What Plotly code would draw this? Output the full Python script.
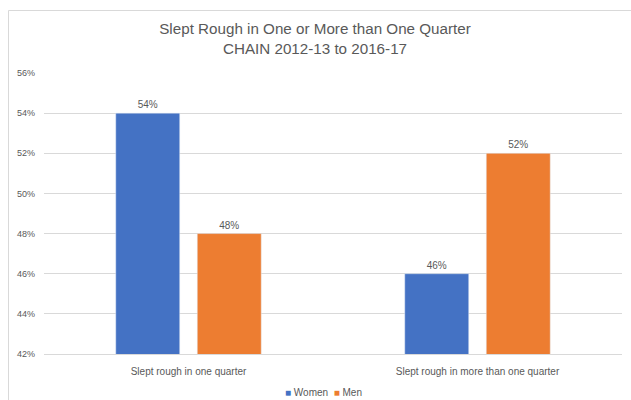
import plotly.graph_objects as go

categories = ["Slept rough in one quarter", "Slept rough in more than one quarter"]
women = [0.54, 0.46]
men = [0.48, 0.52]
tick_vals = [0.42, 0.44, 0.46, 0.48, 0.50, 0.52, 0.54, 0.56]
series_names = ["Women", "Men"]
series_colors = ["#4472C4", "#ED7D31"]

grey = "#595959"
fontfam = "Liberation Sans, Arial, sans-serif"

fig = go.Figure()
for name, vals, col in zip(series_names, [women, men], series_colors):
    fig.add_trace(go.Bar(name=name, x=categories, y=vals, marker_color=col,
                         text=[f"{v:.0%}" for v in vals], textposition="outside",
                         textfont=dict(size=10, color=grey), cliponaxis=False,
                         showlegend=False))

legend_text = "  ".join(
    f"<span style='color:{c}'>■</span> <span style='color:{grey}'>{n}</span>"
    for n, c in zip(series_names, series_colors))

W, H = 631, 400
L, T, R, B = 44, 73, 9, 46
pw, ph = W - L - R, H - T - B

fig.update_layout(
    width=W, height=H,
    margin=dict(l=L, r=R, t=T, b=B, autoexpand=False),
    paper_bgcolor="white", plot_bgcolor="white",
    font=dict(family=fontfam, color=grey),
    title=dict(text="Slept Rough in One or More than One Quarter<br>CHAIN 2012-13 to 2016-17",
               x=315 / W, xref="container", xanchor="center", y=1 - 34 / H, yref="container",
               yanchor="middle", font=dict(size=15.2, color=grey)),
    barmode="group", bargap=0.436, bargroupgap=0.215,
    xaxis=dict(showgrid=False, showline=True, linecolor="#D9D9D9", linewidth=1,
               ticks="", tickfont=dict(size=10, color=grey), ticklabelstandoff=8),
    yaxis=dict(range=[0.42, 0.56], tickvals=tick_vals, tickformat=".0%",
               showgrid=True, gridcolor="#D9D9D9", gridwidth=1, zeroline=False,
               showline=False, ticks="", tickfont=dict(size=9, color=grey), ticklabelstandoff=8),
    annotations=[dict(text=legend_text, xref="paper", yref="paper",
                      x=(323.5 - L) / pw, y=(T + ph - 392) / ph, xanchor="center", yanchor="middle",
                      showarrow=False, font=dict(size=10, color=grey))],
    shapes=[dict(type="rect", xref="paper", yref="paper",
                 x0=(8.5 - L) / pw, x1=(650 - L) / pw,
                 y0=(T + ph - 420) / ph, y1=(T + ph - 10.5) / ph,
                 line=dict(color="#D9D9D9", width=1), fillcolor="rgba(0,0,0,0)", layer="below")],
)

fig.write_html("out.html", config={"displayModeBar": False},
               post_script="document.body.style.margin='0';document.body.style.overflow='hidden';")
